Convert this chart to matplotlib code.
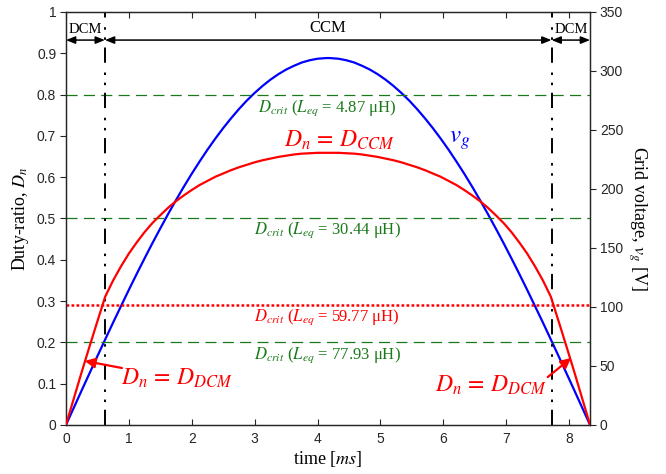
import matplotlib
matplotlib.use("Agg")
import matplotlib.pyplot as plt

plt.rcParams['font.family'] = ['Liberation Serif', 'DejaVu Serif']
plt.rcParams['mathtext.fontset'] = 'stix'
plt.rcParams['lines.scale_dashes'] = False

# ---- data ----
t_vg = [0, 0.125, 0.25, 0.375, 0.5, 0.625, 0.75, 0.875, 1.0, 1.125, 1.25, 1.375, 1.5, 1.625, 1.75, 1.875,
        2.0, 2.125, 2.25, 2.375, 2.5, 2.625, 2.75, 2.875, 3.0, 3.125, 3.25, 3.375, 3.5, 3.625, 3.75, 3.875,
        4.0, 4.125, 4.167,
        4.208, 4.333, 4.458, 4.583, 4.708, 4.833, 4.958, 5.083, 5.208, 5.333, 5.458, 5.583, 5.708, 5.833,
        5.958, 6.083, 6.208, 6.333, 6.458, 6.583, 6.708, 6.833, 6.958, 7.083, 7.208, 7.333, 7.458, 7.583,
        7.708, 7.833, 7.958, 8.083, 8.208, 8.333]
vg = [0, 14.6, 29.3, 43.8, 58.3, 72.6, 86.8, 100.7, 114.5, 128.0, 141.2, 154.1, 166.6, 178.8, 190.6, 202.0,
      212.9, 223.3, 233.3, 242.7, 251.6, 259.9, 267.7, 274.9, 281.4, 287.3, 292.6, 297.2, 301.2, 304.4, 307.2,
      309.1, 310.4, 310.9, 311.0,
      310.9, 310.4, 309.1, 307.2, 304.4, 301.2, 297.2, 292.6, 287.3, 281.4, 274.9, 267.7, 259.9, 251.6,
      242.7, 233.3, 223.3, 212.9, 202.0, 190.6, 178.8, 166.6, 154.1, 141.2, 128.0, 114.5, 100.7, 86.8,
      72.6, 58.3, 43.8, 29.3, 14.6, 0]

t_dn = t_vg
dn = [0, 0.064, 0.128, 0.190, 0.251, 0.311, 0.350, 0.384, 0.415, 0.442, 0.467, 0.489, 0.508, 0.526, 0.542,
      0.556, 0.569, 0.581, 0.591, 0.601, 0.609, 0.617, 0.624, 0.630, 0.636, 0.641, 0.645, 0.649, 0.652,
      0.655, 0.657, 0.658, 0.659, 0.659, 0.659,
      0.659, 0.659, 0.658, 0.657, 0.655, 0.652, 0.649, 0.645, 0.641, 0.636, 0.630, 0.624, 0.617, 0.609,
      0.601, 0.591, 0.581, 0.569, 0.556, 0.542, 0.526, 0.508, 0.489, 0.467, 0.442, 0.415, 0.384, 0.350,
      0.311, 0.251, 0.190, 0.128, 0.064, 0]

d_crit_green = [0.8, 0.5, 0.2]
d_crit_red = 0.29
l_eq_labels = ['4.87', '30.44', '77.93']
l_eq_red = '59.77'
boundaries = [0.62, 7.72]
t_end = 8.333

fig = plt.figure(figsize=(6.66, 4.74), dpi=100)
ax = fig.add_axes([0.099, 0.1034, 0.787, 0.8713])
ax2 = ax.twinx()

grey = '#262626'
green = '#1a7a1a'

# horizontal critical lines
for d in d_crit_green:
    ax.axhline(d, color=green, lw=0.9, dashes=(8, 4.5), zorder=1)
ax.axhline(d_crit_red, color='red', lw=1.8, dashes=(2.0, 1.6), zorder=1)

# vertical boundaries
for b in boundaries:
    ax.axvline(b, color='black', lw=1.4, dashes=(11, 5.5, 1.8, 5.5, 1.8, 7), zorder=2)

# curves
ax.plot(t_dn, dn, color='red', lw=1.6, zorder=4)
ax2.plot(t_vg, vg, color='blue', lw=1.6, zorder=4)

ax.set_xlim(0, t_end)
ax.set_ylim(0, 1)
ax2.set_ylim(0, 350)
ax.set_xticks(range(0, 9))
ax.set_yticks([i / 10 for i in range(11)])
ax.set_yticklabels(['0'] + ['0.%d' % i for i in range(1, 10)] + ['1'])
ax2.set_yticks(range(0, 351, 50))

for lab in ax.get_xticklabels() + ax.get_yticklabels() + ax2.get_yticklabels():
    lab.set_fontfamily('Liberation Sans')
    lab.set_fontsize(10)
    lab.set_color(grey)
ax.tick_params(axis='x', direction='in', top=True, length=4, color=grey, pad=5)
ax.tick_params(axis='y', direction='out', length=4, color=grey, pad=3)
ax2.tick_params(axis='y', direction='out', length=4, color=grey, pad=3)
for sp in list(ax.spines.values()) + list(ax2.spines.values()):
    sp.set_color(grey)
    sp.set_linewidth(0.9)

ax.set_xlabel(r'time [$ms$]', fontsize=13, labelpad=2)
ax.set_ylabel(r'Duty-ratio, $D_n$', fontsize=13, labelpad=4)
ax2.set_ylabel(r'Grid voltage, $v_g$ [V]', fontsize=13, rotation=270, labelpad=18)

# top mode arrows
ya = 0.932
arrow_kw = dict(arrowstyle='<|-|>,head_length=0.55,head_width=0.22', color='black', lw=1.1,
                shrinkA=0, shrinkB=0)
segs = [(0, boundaries[0]), (boundaries[0], boundaries[1]), (boundaries[1], t_end)]
for a, b in segs:
    ax.annotate('', xy=(b, ya), xytext=(a, ya), arrowprops=arrow_kw)
ax.text(sum(segs[0]) / 2, 0.942, 'DCM', ha='center', va='bottom', fontsize=10.5)
ax.text(4.17, 0.942, 'CCM', ha='center', va='bottom', fontsize=12)
ax.text(sum(segs[2]) / 2, 0.942, 'DCM', ha='center', va='bottom', fontsize=10.5)

# D_crit labels
ys = [0.768, 0.472, 0.168]
for d, lab, y in zip(d_crit_green, l_eq_labels, ys):
    ax.text(4.15, y, r'$D_{crit}$ ($L_{eq}$ = ' + lab + ' μH)', color=green, fontsize=12,
            ha='center', va='center')
ax.text(4.15, 0.262, r'$D_{crit}$ ($L_{eq}$ = ' + l_eq_red + ' μH)', color='red', fontsize=12,
        ha='center', va='center')

ax.text(4.35, 0.69, r'$D_n\,=\,D_{CCM}$', color='red', fontsize=17, ha='center', va='center')
ax.text(6.26, 0.688, r'$v_g$', color='blue', fontsize=18, ha='center', va='center')

ax.text(1.76, 0.114, r'$D_n\,=\,D_{DCM}$', color='red', fontsize=17, ha='center', va='center')
ax.text(6.76, 0.097, r'$D_n\,=\,D_{DCM}$', color='red', fontsize=17, ha='center', va='center')
akw = dict(arrowstyle='-|>,head_length=0.6,head_width=0.3', color='red', lw=1.6, shrinkA=0, shrinkB=0)
ax.annotate('', xy=(0.30, 0.155), xytext=(0.89, 0.138), arrowprops=akw)
ax.annotate('', xy=(8.03, 0.162), xytext=(7.66, 0.116), arrowprops=akw)

ax.set_zorder(ax2.get_zorder() + 1)
ax.patch.set_visible(False)

fig.savefig('out.png', dpi=100)
